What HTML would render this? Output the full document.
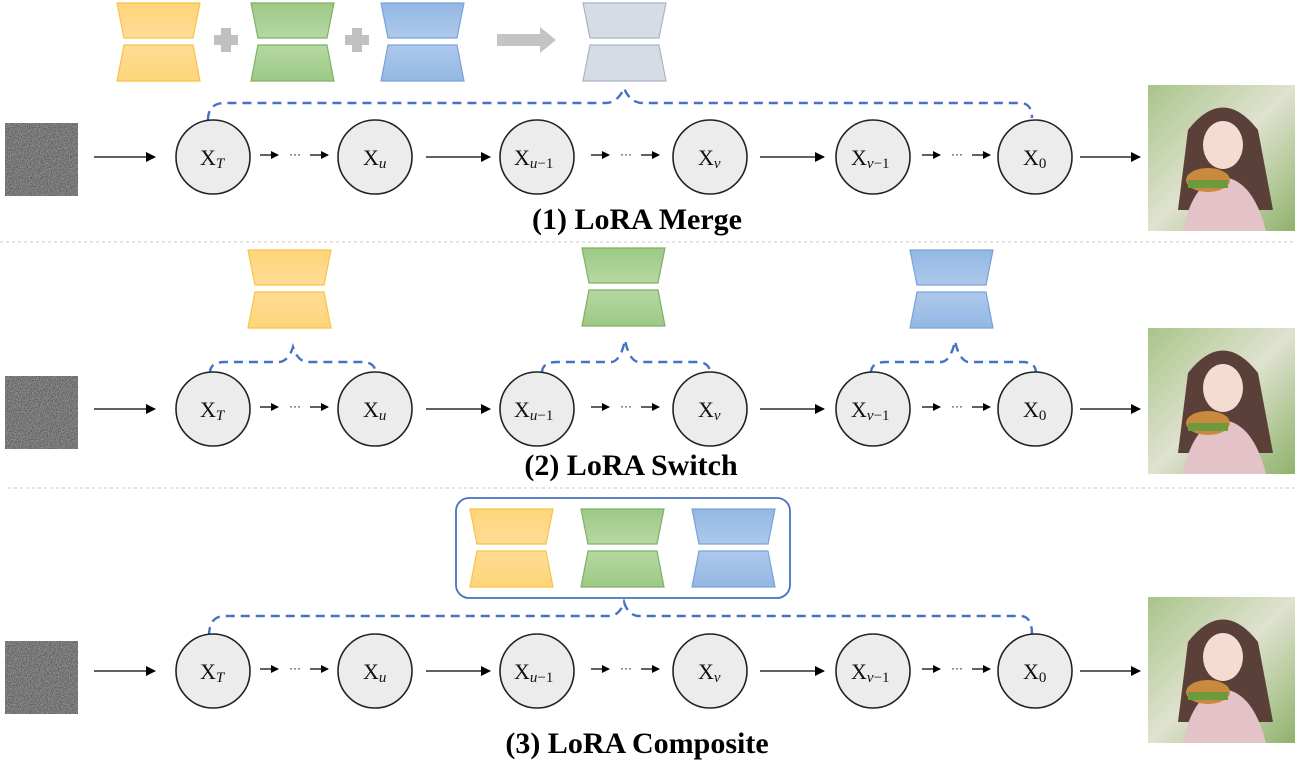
<!DOCTYPE html>
<html><head><meta charset="utf-8"><style>
html,body{margin:0;padding:0;background:#fff;}
svg{display:block;}
.lbl{font-family:"Liberation Serif",serif;font-weight:bold;font-size:30px;fill:#000;}
.x{font-family:"Liberation Serif",serif;font-size:22px;fill:#111;}
.s{font-family:"Liberation Serif",serif;font-style:italic;font-size:15px;fill:#111;}
</style></head><body>
<svg width="1295" height="779" viewBox="0 0 1295 779" xmlns="http://www.w3.org/2000/svg">
<defs>
<filter id="nz" x="0" y="0" width="100%" height="100%" color-interpolation-filters="sRGB">
<feTurbulence type="fractalNoise" baseFrequency="0.9" numOctaves="2" seed="3"/>
<feColorMatrix type="matrix" values="0.5 0 0 0 0.22  0.5 0 0 0 0.22  0.5 0 0 0 0.22  0 0 0 0 1"/>
</filter>
<linearGradient id="gy" x1="0" y1="0" x2="0" y2="1"><stop offset="0" stop-color="#ffd57a"/><stop offset="1" stop-color="#ffdc95"/></linearGradient>
<linearGradient id="gy2" x1="0" y1="0" x2="0" y2="1"><stop offset="0" stop-color="#ffdc95"/><stop offset="1" stop-color="#ffd57a"/></linearGradient>
<linearGradient id="gg" x1="0" y1="0" x2="0" y2="1"><stop offset="0" stop-color="#9cc985"/><stop offset="1" stop-color="#b6d8a2"/></linearGradient>
<linearGradient id="gg2" x1="0" y1="0" x2="0" y2="1"><stop offset="0" stop-color="#b6d8a2"/><stop offset="1" stop-color="#9cc985"/></linearGradient>
<linearGradient id="gb" x1="0" y1="0" x2="0" y2="1"><stop offset="0" stop-color="#93b7e3"/><stop offset="1" stop-color="#adc9ec"/></linearGradient>
<linearGradient id="gb2" x1="0" y1="0" x2="0" y2="1"><stop offset="0" stop-color="#adc9ec"/><stop offset="1" stop-color="#93b7e3"/></linearGradient>
<linearGradient id="pic" x1="0" y1="0" x2="1" y2="1"><stop offset="0" stop-color="#a9c48a"/><stop offset="0.5" stop-color="#dfe2cf"/><stop offset="1" stop-color="#8fb36c"/></linearGradient>
<marker id="ah" markerWidth="8" markerHeight="8" refX="7" refY="4" orient="auto" markerUnits="userSpaceOnUse"><path d="M0,0 L8,4 L0,8 z" fill="#000"/></marker>
<marker id="ah2" markerWidth="10" markerHeight="10" refX="9" refY="5" orient="auto" markerUnits="userSpaceOnUse"><path d="M0,0 L10,5 L0,10 z" fill="#000"/></marker>
<g id="pair-y"><path d="M0,0 H83 L76,35 H7 Z" fill="url(#gy)" stroke="#f5c445" stroke-width="1.2"/><path d="M7,42 H76 L83,78 H0 Z" fill="url(#gy2)" stroke="#f5c445" stroke-width="1.2"/></g>
<g id="pair-g"><path d="M0,0 H83 L76,35 H7 Z" fill="url(#gg)" stroke="#7fb067" stroke-width="1.2"/><path d="M7,42 H76 L83,78 H0 Z" fill="url(#gg2)" stroke="#7fb067" stroke-width="1.2"/></g>
<g id="pair-b"><path d="M0,0 H83 L76,35 H7 Z" fill="url(#gb)" stroke="#79a3d6" stroke-width="1.2"/><path d="M7,42 H76 L83,78 H0 Z" fill="url(#gb2)" stroke="#79a3d6" stroke-width="1.2"/></g>
<g id="pair-s"><path d="M0,0 H83 L76,35 H7 Z" fill="#d6dce6" stroke="#a9b5c8" stroke-width="1.2"/><path d="M7,42 H76 L83,78 H0 Z" fill="#d6dce6" stroke="#a9b5c8" stroke-width="1.2"/></g>
<g id="noise"><rect x="0" y="0" width="73" height="73" fill="#6f6f6f"/><rect x="0" y="0" width="73" height="73" filter="url(#nz)"/></g>
<g id="pic1"><rect x="0" y="0" width="147" height="146" fill="url(#pic)"/>
<path d="M40,45 Q75,0 110,45 L125,125 L30,125 Z" fill="#5a4038"/>
<ellipse cx="75" cy="60" rx="20" ry="24" fill="#f5dcd2"/>
<path d="M35,146 Q45,95 75,92 Q105,95 118,146 Z" fill="#e3c2c8"/>
<ellipse cx="60" cy="95" rx="22" ry="12" fill="#c98a3e"/>
<rect x="40" y="95" width="40" height="8" fill="#6c9a3c"/></g>
<g id="row">
<line x1="94" y1="0" x2="155" y2="0" stroke="#000" stroke-width="1.3" marker-end="url(#ah2)"/>
<line x1="260" y1="-2" x2="278" y2="-2" stroke="#000" stroke-width="1.3" marker-end="url(#ah)"/>
<text x="289" y="1" font-size="12" font-family="Liberation Sans,sans-serif">···</text>
<line x1="310" y1="-2" x2="328" y2="-2" stroke="#000" stroke-width="1.3" marker-end="url(#ah)"/>
<line x1="426" y1="0" x2="490" y2="0" stroke="#000" stroke-width="1.3" marker-end="url(#ah2)"/>
<line x1="591" y1="-2" x2="609" y2="-2" stroke="#000" stroke-width="1.3" marker-end="url(#ah)"/>
<text x="620" y="1" font-size="12" font-family="Liberation Sans,sans-serif">···</text>
<line x1="641" y1="-2" x2="659" y2="-2" stroke="#000" stroke-width="1.3" marker-end="url(#ah)"/>
<line x1="760" y1="0" x2="824" y2="0" stroke="#000" stroke-width="1.3" marker-end="url(#ah2)"/>
<line x1="922" y1="-2" x2="940" y2="-2" stroke="#000" stroke-width="1.3" marker-end="url(#ah)"/>
<text x="951" y="1" font-size="12" font-family="Liberation Sans,sans-serif">···</text>
<line x1="972" y1="-2" x2="990" y2="-2" stroke="#000" stroke-width="1.3" marker-end="url(#ah)"/>
<line x1="1080" y1="0" x2="1140" y2="0" stroke="#000" stroke-width="1.3" marker-end="url(#ah2)"/>
<g fill="#ececec" stroke="#222" stroke-width="1.6">
<ellipse cx="213" cy="0" rx="37" ry="37"/><ellipse cx="375" cy="0" rx="37" ry="37"/><ellipse cx="537" cy="0" rx="37" ry="37"/>
<ellipse cx="710" cy="0" rx="37" ry="37"/><ellipse cx="873" cy="0" rx="37" ry="37"/><ellipse cx="1035" cy="0" rx="37" ry="37"/></g>
<text class="x" x="200" y="8">X<tspan class="s" dy="3">T</tspan></text>
<text class="x" x="363" y="8">X<tspan class="s" dy="3">u</tspan></text>
<text class="x" x="514" y="8">X<tspan class="s" dy="3">u</tspan><tspan font-size="15" font-family="Liberation Serif,serif">−1</tspan></text>
<text class="x" x="698" y="8">X<tspan class="s" dy="3">v</tspan></text>
<text class="x" x="851" y="8">X<tspan class="s" dy="3">v</tspan><tspan font-size="15" font-family="Liberation Serif,serif">−1</tspan></text>
<text class="x" x="1023" y="8">X<tspan font-size="15" dy="3" font-family="Liberation Serif,serif">0</tspan></text>
</g>
</defs>

<!-- Row 1 -->
<use href="#pair-y" x="117" y="3"/>
<use href="#pair-g" x="251" y="3"/>
<use href="#pair-b" x="381" y="3"/>
<use href="#pair-s" x="583" y="3"/>
<rect x="221" y="28" width="10" height="24" fill="#c0c0c0"/><rect x="214" y="35" width="24" height="10" fill="#c0c0c0"/>
<rect x="352" y="28" width="10" height="24" fill="#c0c0c0"/><rect x="345" y="35" width="24" height="10" fill="#c0c0c0"/>
<path d="M497,34 H540 V27 L556,40 L540,53 V46 H497 Z" fill="#c4c4c4"/>
<path d="M208,120 Q208,103 225,103 H605 Q618,103 624,88 Q630,103 643,103 H1020 Q1032,103 1032,118" fill="none" stroke="#4472c4" stroke-width="2.4" stroke-dasharray="9,6"/>
<use href="#noise" x="5" y="123"/>
<use href="#row" x="0" y="157"/>
<use href="#pic1" x="1148" y="85"/>
<text class="lbl" x="637" y="229" text-anchor="middle">(1) LoRA Merge</text>
<line x1="0" y1="242" x2="1295" y2="242" stroke="#c8c8c8" stroke-dasharray="3,3"/>

<!-- Row 2 -->
<use href="#pair-y" x="248" y="250"/>
<use href="#pair-g" x="582" y="248"/>
<use href="#pair-b" x="910" y="250"/>
<path d="M210,373 Q210,362 225,362 H280 Q289,360 293,347 Q297,360 306,362 H362 Q376,362 376,375" fill="none" stroke="#4472c4" stroke-width="2.4" stroke-dasharray="9,6"/>
<path d="M542,373 Q542,362 557,362 H612 Q621,360 625,340 Q629,360 638,362 H696 Q710,362 710,373" fill="none" stroke="#4472c4" stroke-width="2.4" stroke-dasharray="9,6"/>
<path d="M871,373 Q871,362 886,362 H942 Q951,360 955,341 Q959,360 968,362 H1022 Q1036,362 1036,373" fill="none" stroke="#4472c4" stroke-width="2.4" stroke-dasharray="9,6"/>
<use href="#noise" x="5" y="376"/>
<use href="#row" x="0" y="409"/>
<use href="#pic1" x="1148" y="328"/>
<text class="lbl" x="631" y="475" text-anchor="middle">(2) LoRA Switch</text>
<line x1="8" y1="488" x2="1295" y2="488" stroke="#c8c8c8" stroke-dasharray="3,3"/>

<!-- Row 3 -->
<rect x="456" y="498" width="334" height="100" rx="13" fill="#fff" stroke="#4a72c0" stroke-width="1.8"/>
<use href="#pair-y" x="470" y="509"/>
<use href="#pair-g" x="581" y="509"/>
<use href="#pair-b" x="692" y="509"/>
<path d="M209,636 Q209,616 225,616 H610 Q620,615 624,602 Q628,615 638,616 H1020 Q1032,616 1032,634" fill="none" stroke="#4472c4" stroke-width="2.4" stroke-dasharray="9,6"/>
<use href="#noise" x="5" y="641"/>
<use href="#row" x="0" y="671"/>
<use href="#pic1" x="1148" y="597"/>
<text class="lbl" x="637" y="753" text-anchor="middle">(3) LoRA Composite</text>
</svg>
</body></html>
